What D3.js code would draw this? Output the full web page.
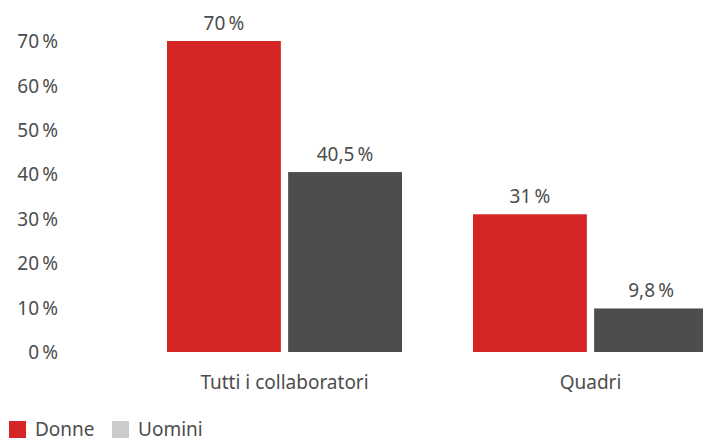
<!DOCTYPE html>
<html>
<head>
<meta charset="utf-8">
<script src="https://cdn.jsdelivr.net/npm/d3@7"></script>
<style>
  body { margin: 0; background: #fff; }
  text { font-family: "Noto Sans", sans-serif; fill: #4d4d4d; }
</style>
</head>
<body>
<div id="chart"></div>
<script>
const categories = ['Tutti i collaboratori', 'Quadri'];
const seriesNames = ['Donne', 'Uomini'];
const donne = [70, 31];
const uomini = [40.5, 9.8];
const valueLabels = [['70 %', '40,5 %'], ['31 %', '9,8 %']];
const yTicks = [0, 10, 20, 30, 40, 50, 60, 70];

const settings = {
  color: {
    donne: '#d52527',
    uomini: '#4d4d4b',
    legendUomini: '#cccccc',
    text: '#4d4d4d'
  },
  fontSize: '19px'
};

const totalWidth = 703, totalHeight = 439;

const svg = d3.select('#chart').append('svg')
  .attr('width', totalWidth)
  .attr('height', totalHeight);

//--------------------- Scales -------------------------------------------------
const yScale = d3.scaleLinear().domain([0, 70]).range([352, 41]);

const xScale = d3.scaleBand()
  .domain(categories)
  .range([131.5, 743.5])
  .paddingInner(0.232)
  .paddingOuter(0.116);

const xInner = d3.scaleBand()
  .domain(seriesNames)
  .range([0, xScale.bandwidth()])
  .paddingInner(0.06);

const colors = d3.scaleOrdinal().domain(seriesNames)
  .range([settings.color.donne, settings.color.uomini]);

//--------------------- Y axis -------------------------------------------------
const yAxis = d3.axisLeft(yScale)
  .tickValues(yTicks)
  .tickSize(0)
  .tickPadding(0)
  .tickFormat(d => d + '\u2009%');

const yAxisView = svg.append('g')
  .attr('transform', 'translate(58, 0.5)')
  .call(yAxis);
yAxisView.select('.domain').remove();
yAxisView.selectAll('text')
  .style('font-family', '"Noto Sans", sans-serif')
  .style('font-size', settings.fontSize)
  .style('fill', settings.color.text);

//--------------------- Bars ---------------------------------------------------
const rows = categories.map((c, i) => ({
  name: c,
  values: [
    { key: 'Donne', value: donne[i], label: valueLabels[i][0] },
    { key: 'Uomini', value: uomini[i], label: valueLabels[i][1] }
  ]
}));

const groups = svg.append('g').selectAll('g')
  .data(rows)
  .enter()
  .append('g')
  .attr('transform', d => 'translate(' + xScale(d.name) + ', 0)');

groups.selectAll('rect')
  .data(d => d.values)
  .enter()
  .append('rect')
  .attr('x', d => xInner(d.key))
  .attr('width', xInner.bandwidth())
  .attr('y', d => yScale(d.value))
  .attr('height', d => yScale(0) - yScale(d.value))
  .attr('fill', d => colors(d.key));

groups.selectAll('text.value')
  .data(d => d.values)
  .enter()
  .append('text')
  .attr('class', 'value')
  .attr('x', d => xInner(d.key) + xInner.bandwidth() / 2)
  .attr('y', d => yScale(d.value) - 11)
  .attr('text-anchor', 'middle')
  .style('font-size', settings.fontSize)
  .text(d => d.label.replace(' ', '\u2009'));

//--------------------- X axis -------------------------------------------------
const xAxis = d3.axisBottom(xScale).tickSize(0).tickPadding(0);
const xAxisView = svg.append('g')
  .attr('transform', 'translate(0, 375)')
  .call(xAxis);
xAxisView.select('.domain').remove();
xAxisView.selectAll('text')
  .style('font-family', '"Noto Sans", sans-serif')
  .style('font-size', settings.fontSize)
  .style('fill', settings.color.text);

//--------------------- Legend -------------------------------------------------
const legendColors = [settings.color.donne, settings.color.legendUomini];
const legendX = [9, 112];
const legend = svg.append('g').selectAll('g')
  .data(seriesNames)
  .enter()
  .append('g')
  .attr('transform', (d, i) => 'translate(' + legendX[i] + ', 421)');

legend.append('rect')
  .attr('width', 17)
  .attr('height', 17)
  .attr('fill', (d, i) => legendColors[i]);

legend.append('text')
  .attr('x', 26)
  .attr('y', 14.5)
  .style('font-size', settings.fontSize)
  .text(d => d);
</script>
</body>
</html>
